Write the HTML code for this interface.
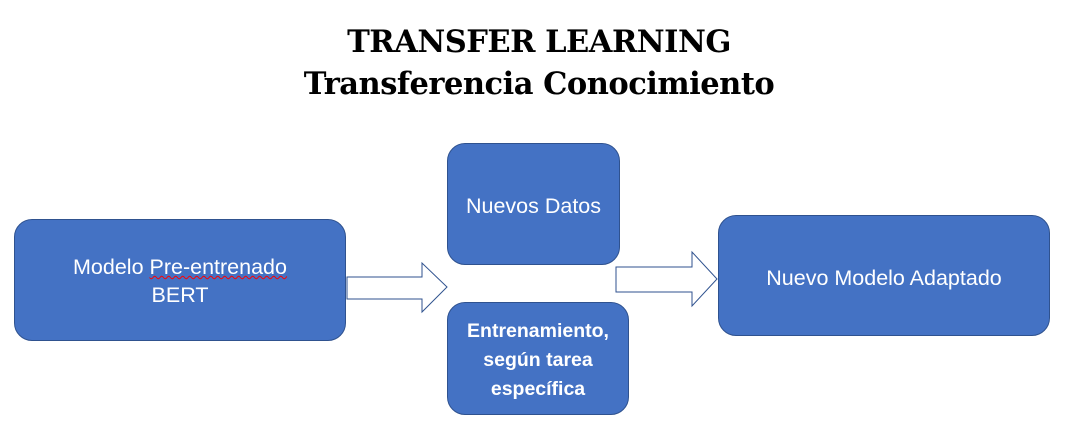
<!DOCTYPE html>
<html><head><style>
body{margin:0;width:1068px;height:432px;background:#fff;position:relative;overflow:hidden;font-family:"Liberation Sans",sans-serif}
.t{position:absolute;left:0;width:1078px;text-align:center;font-family:"DejaVu Serif","Liberation Serif",serif;font-weight:bold;color:#000}
.b{position:absolute;background:#4472C4;border:1px solid #2F528F;border-radius:18px;color:#fff;font-size:21.5px;display:flex;align-items:center;justify-content:center;text-align:center;line-height:28px;box-sizing:border-box}
</style></head><body>
<div class="t" style="top:24px;font-size:30.5px;letter-spacing:-0.5px">TRANSFER LEARNING</div>
<div class="t" style="top:66px;font-size:30.5px;letter-spacing:-0.5px">Transferencia Conocimiento</div>
<div class="b" style="left:14px;top:219px;width:332px;height:122px;padding-top:2px"><div>Modelo <span style="text-decoration:underline wavy red;text-decoration-thickness:1px">Pre-entrenado</span><br>BERT</div></div>
<div class="b" style="left:447px;top:143px;width:173px;height:122px;padding-top:4px">Nuevos Datos</div>
<div class="b" style="left:447px;top:302px;width:182px;height:113px;font-weight:bold;font-size:19.5px;line-height:29px;padding-top:3px"><div>Entrenamiento,<br>según tarea<br>específica</div></div>
<div class="b" style="left:718px;top:215px;width:332px;height:121px;padding-top:4px">Nuevo Modelo Adaptado</div>
<svg width="1068" height="432" style="position:absolute;left:0;top:0">
<polygon points="347,277 422,277 422,263 447,287 422,312 422,299 347,299" fill="#fff" stroke="#2F528F" stroke-width="1"/>
<polygon points="616,267 692,267 692,252 717,279 692,306 692,292 616,292" fill="#fff" stroke="#2F528F" stroke-width="1"/>
</svg>
</body></html>
